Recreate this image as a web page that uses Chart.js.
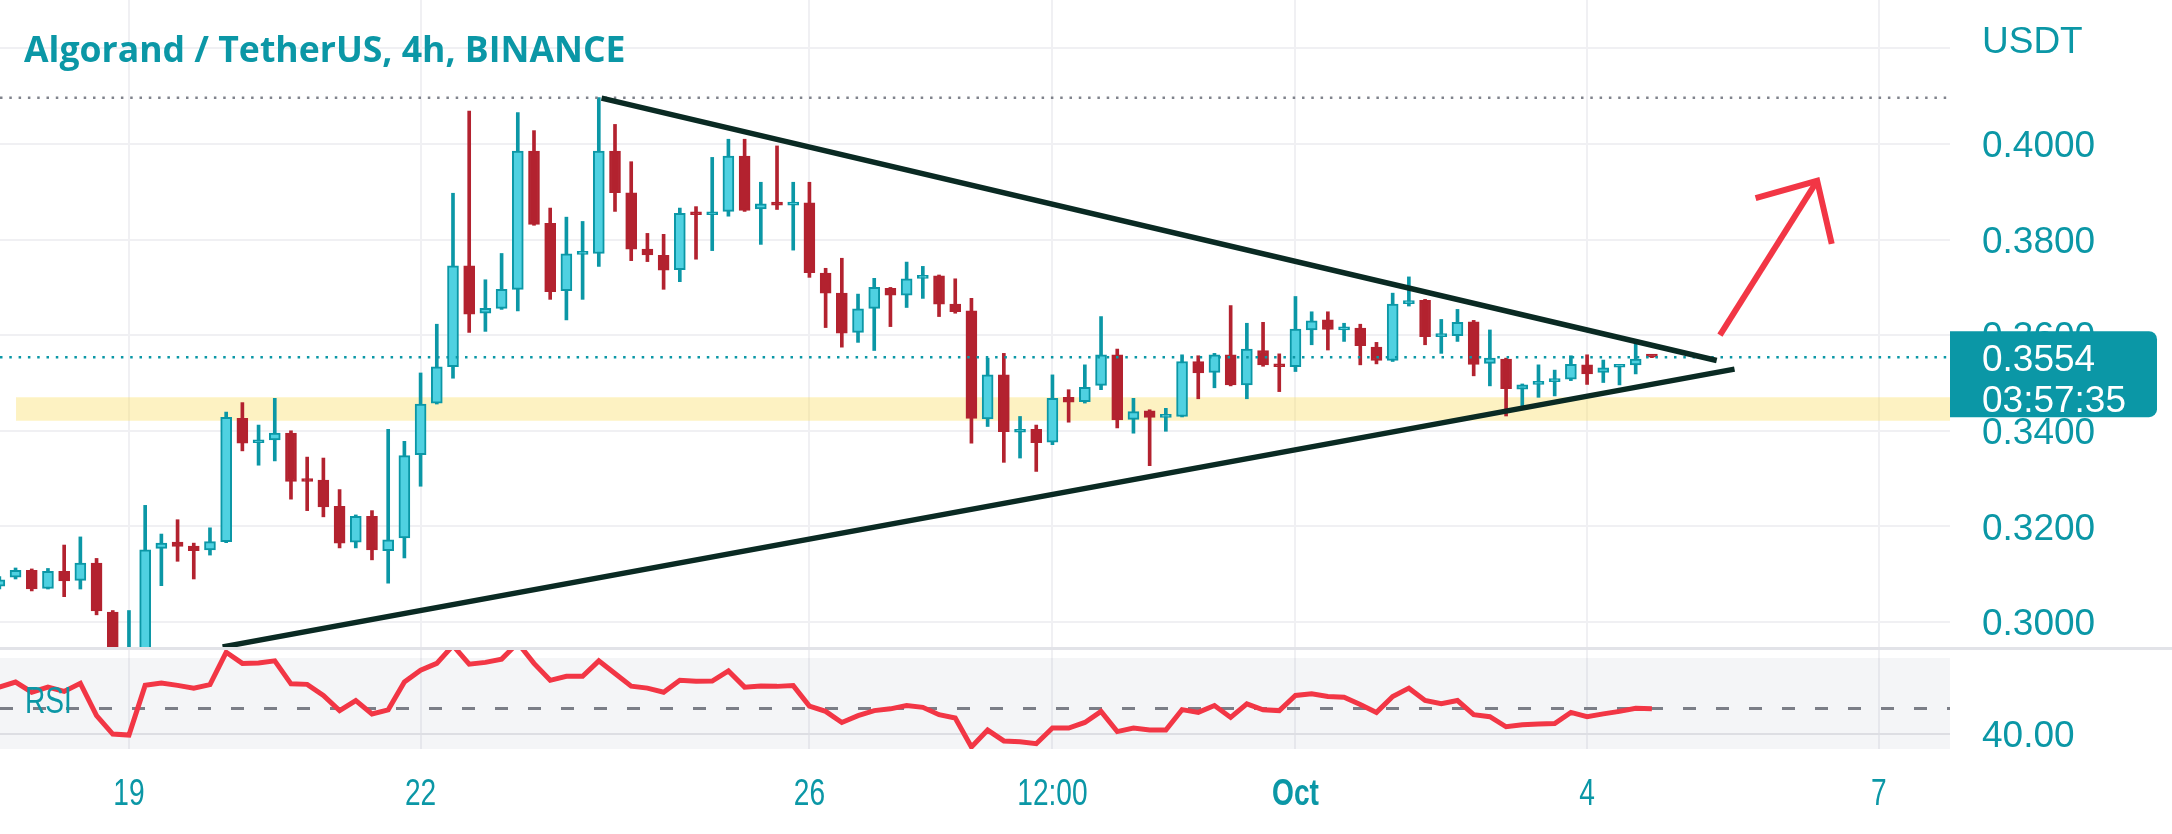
<!DOCTYPE html>
<html>
<head>
<meta charset="utf-8">
<script src="https://cdn.jsdelivr.net/npm/chart.js@4.4.1/dist/chart.umd.min.js"></script>
<style>
  html, body { margin: 0; padding: 0; background: #fff; }
  body { width: 2172px; height: 834px; position: relative; overflow: hidden; }
  #priceChart { position: absolute; left: 0; top: 0; }
  #rsiChart { position: absolute; left: 0; top: 649px; }
  #paneDivider { position: absolute; left: 0; top: 647px; width: 2172px; height: 3px; background: #e2e3e8; }
</style>
</head>
<body>
<canvas id="priceChart" width="2172" height="649"></canvas>
<canvas id="rsiChart" width="2172" height="185"></canvas>
<div id="paneDivider"></div>
<script>
// ALGO/USDT 4h candles. x is counted in 4h candles from Sep 19 00:00,
// first candle shown is Sep 17 16:00
const firstCandle = -8;

const opens = [
  0.3075, 0.3094, 0.3108, 0.3070, 0.3106, 0.3087, 0.3123, 0.3021, 0.2915, 0.2935,
  0.3154, 0.3167, 0.3159, 0.3151, 0.3168, 0.3426, 0.3375, 0.3381, 0.3395, 0.3297,
  0.3297, 0.3242, 0.3167, 0.3221, 0.3149, 0.3176, 0.3350, 0.3458, 0.3534, 0.3745,
  0.3646, 0.3656, 0.3696, 0.3985, 0.3834, 0.3693, 0.3769, 0.3771, 0.3985, 0.3898,
  0.3780, 0.3767, 0.3737, 0.3855, 0.3852, 0.3859, 0.3975, 0.3864, 0.3875, 0.3872,
  0.3877, 0.3730, 0.3688, 0.3606, 0.3656, 0.3698, 0.3684, 0.3719, 0.3724, 0.3665,
  0.3651, 0.3425, 0.3517, 0.3397, 0.3403, 0.3376, 0.3470, 0.3461, 0.3495, 0.3559,
  0.3424, 0.3442, 0.3428, 0.3430, 0.3545, 0.3522, 0.3559, 0.3496, 0.3568, 0.3538,
  0.3534, 0.3611, 0.3632, 0.3611, 0.3615, 0.3575, 0.3547, 0.3666, 0.3673, 0.3597,
  0.3599, 0.3628, 0.3541, 0.3550, 0.3487, 0.3497, 0.3503, 0.3508, 0.3538, 0.3522,
  0.3533, 0.3538, 0.3556
];
const highs = [
  0.3095, 0.3113, 0.3111, 0.3112, 0.3161, 0.3178, 0.3133, 0.3024, 0.3024, 0.3244,
  0.3184, 0.3214, 0.3165, 0.3197, 0.3439, 0.3459, 0.3412, 0.3468, 0.3400, 0.3345,
  0.3343, 0.3277, 0.3224, 0.3233, 0.3403, 0.3378, 0.3521, 0.3623, 0.3897, 0.4069,
  0.3716, 0.3771, 0.4066, 0.4028, 0.3866, 0.3847, 0.3838, 0.4097, 0.4041, 0.3963,
  0.3813, 0.3811, 0.3866, 0.3869, 0.3972, 0.4010, 0.4010, 0.3920, 0.3996, 0.3920,
  0.3920, 0.3740, 0.3761, 0.3686, 0.3719, 0.3700, 0.3753, 0.3744, 0.3726, 0.3718,
  0.3677, 0.3552, 0.3562, 0.3430, 0.3412, 0.3517, 0.3486, 0.3538, 0.3639, 0.3571,
  0.3468, 0.3444, 0.3447, 0.3559, 0.3557, 0.3562, 0.3662, 0.3625, 0.3627, 0.3561,
  0.3681, 0.3649, 0.3649, 0.3625, 0.3623, 0.3585, 0.3688, 0.3722, 0.3675, 0.3633,
  0.3654, 0.3631, 0.3611, 0.3552, 0.3498, 0.3538, 0.3527, 0.3557, 0.3559, 0.3548,
  0.3536, 0.3591, 0.3557
];
const lows = [
  0.3069, 0.3090, 0.3065, 0.3069, 0.3053, 0.3069, 0.3015, 0.2890, 0.2880, 0.2925,
  0.3076, 0.3127, 0.3090, 0.3140, 0.3166, 0.3358, 0.3328, 0.3337, 0.3257, 0.3233,
  0.3220, 0.3155, 0.3155, 0.3130, 0.3081, 0.3134, 0.3284, 0.3456, 0.3510, 0.3606,
  0.3608, 0.3654, 0.3651, 0.3830, 0.3675, 0.3632, 0.3675, 0.3744, 0.3859, 0.3756,
  0.3754, 0.3696, 0.3712, 0.3759, 0.3777, 0.3849, 0.3859, 0.3790, 0.3863, 0.3778,
  0.3721, 0.3616, 0.3575, 0.3585, 0.3568, 0.3618, 0.3658, 0.3677, 0.3639, 0.3646,
  0.3374, 0.3409, 0.3334, 0.3343, 0.3315, 0.3371, 0.3418, 0.3458, 0.3486, 0.3406,
  0.3395, 0.3327, 0.3399, 0.3429, 0.3467, 0.3490, 0.3494, 0.3467, 0.3535, 0.3482,
  0.3524, 0.3580, 0.3569, 0.3587, 0.3538, 0.3540, 0.3545, 0.3661, 0.3580, 0.3562,
  0.3587, 0.3515, 0.3494, 0.3431, 0.3452, 0.3470, 0.3473, 0.3505, 0.3497, 0.3501,
  0.3496, 0.3519, 0.3553
];
const closes = [
  0.3088, 0.3108, 0.3069, 0.3106, 0.3086, 0.3123, 0.3023, 0.2915, 0.2935, 0.3151,
  0.3165, 0.3158, 0.3149, 0.3168, 0.3428, 0.3374, 0.3377, 0.3395, 0.3294, 0.3294,
  0.3241, 0.3165, 0.3221, 0.3151, 0.3172, 0.3348, 0.3456, 0.3534, 0.3745, 0.3644,
  0.3656, 0.3696, 0.3985, 0.3832, 0.3691, 0.3770, 0.3773, 0.3985, 0.3898, 0.3780,
  0.3768, 0.3736, 0.3855, 0.3852, 0.3856, 0.3975, 0.3861, 0.3875, 0.3872, 0.3876,
  0.3731, 0.3688, 0.3604, 0.3655, 0.3700, 0.3684, 0.3718, 0.3723, 0.3665, 0.3649,
  0.3426, 0.3517, 0.3398, 0.3402, 0.3375, 0.3468, 0.3460, 0.3491, 0.3559, 0.3423,
  0.3440, 0.3428, 0.3432, 0.3545, 0.3521, 0.3559, 0.3496, 0.3571, 0.3538, 0.3534,
  0.3613, 0.3630, 0.3612, 0.3615, 0.3578, 0.3547, 0.3665, 0.3670, 0.3597, 0.3600,
  0.3627, 0.3539, 0.3552, 0.3488, 0.3496, 0.3500, 0.3508, 0.3539, 0.3519, 0.3532,
  0.3535, 0.3550, 0.3554
];
const rsiValues = [
  58.5, 60.5, 56.5, 58.5, 56.8, 60.0, 47.2, 39.9, 39.5, 59.2,
  60.1, 59.2, 58.1, 59.5, 72.3, 67.9, 68.1, 68.9, 59.8, 59.6,
  55.2, 49.2, 53.2, 47.9, 49.5, 60.5, 65.2, 67.9, 75.0, 67.6,
  68.3, 69.6, 76.0, 67.9, 61.2, 62.8, 62.8, 68.9, 63.9, 58.9,
  58.1, 56.5, 61.2, 60.8, 60.9, 64.9, 58.5, 58.9, 58.8, 59.1,
  51.0, 48.9, 44.5, 47.2, 49.2, 49.9, 51.2, 50.5, 47.6, 46.3,
  34.8, 41.5, 37.2, 36.9, 36.1, 42.3, 42.3, 44.5, 48.9, 40.9,
  42.3, 41.5, 41.5, 49.6, 48.5, 51.2, 46.5, 51.9, 49.5, 49.2,
  55.2, 55.9, 54.8, 54.5, 51.6, 48.5, 54.8, 58.1, 53.2, 51.9,
  53.2, 47.6, 46.8, 42.8, 43.6, 43.9, 44.1, 48.5, 46.8, 47.9,
  48.9, 50.1, 49.9
];

// time axis (in candles from Sep 19 00:00)
const timeTickPos = [0, 18, 42, 57, 72, 90, 108];
const timeTickLabels = ['19', '22', '26', '12:00', 'Oct', '4', '7'];
const priceTicks = [0.30, 0.32, 0.34, 0.36, 0.38, 0.40, 0.42];
const rsiTicks = [40];
const rsiLevels = [70, 50, 30];

// drawings: [candle, price]
const supportZone = [0.3421, 0.3470];
const supportStart = -6.97;
const upperTrend = [[29.17, 0.4096], [98.0, 0.3547]];
const lowerTrend = [[5.78, 0.2948], [99.1, 0.3529]];
const arrowShaft = [[98.2, 0.3600], [104.2, 0.3923]];
const arrowHead = [[100.4, 0.3887], [104.2, 0.3923], [105.1, 0.3791]];
const countdown = '03:57:35';

const X_MIN = -7.96, X_MAX = 112.4;
const TEAL = '#0b97a6';
const TEAL_FILL = '#4fd1e1';
const RED = '#b3222f';
const GRID = '#f0f0f3';
const AXIS_FONT = { family: "'Liberation Sans', Arial, sans-serif", size: 37 };
const NARROW = "'Liberation Sans', Arial, sans-serif";
const SQUEEZE = 0.76; // time labels are condensed in the original

const xs = closes.map((c, i) => firstCandle + i);
const upColor = closes.map((c, i) => c >= opens[i] ? TEAL : RED);
const bodyFill = closes.map((c, i) => c >= opens[i] ? TEAL_FILL : RED);

function lineSet(points, color, width, extra) {
  return Object.assign({
    type: 'line',
    data: points.map(p => ({ x: p[0], y: p[1] })),
    borderColor: color,
    borderWidth: width,
    pointRadius: 0,
    tension: 0,
    fill: false,
    clip: 0
  }, extra || {});
}

function noPadding(s) {
  s.paddingTop = 0; s.paddingBottom = 0; s.paddingLeft = 0; s.paddingRight = 0;
}

function squeezedText(ctx, text, x, y, align) {
  ctx.save();
  ctx.translate(x, y);
  ctx.scale(SQUEEZE, 1);
  ctx.textAlign = align;
  ctx.fillText(text, 0, 0);
  ctx.restore();
}

const highest = Math.max(...highs);
const lastPrice = closes[closes.length - 1];

const priceOverlay = {
  id: 'priceOverlay',
  afterDraw(chart) {
    const { ctx, chartArea, scales } = chart;
    ctx.save();
    ctx.fillStyle = TEAL;
    ctx.font = "bold 35.6px 'Open Sans', sans-serif";
    ctx.textBaseline = 'alphabetic';
    ctx.fillText('Algorand / TetherUS, 4h, BINANCE', 24, 62);

    ctx.font = AXIS_FONT.size + 'px ' + AXIS_FONT.family;
    ctx.textBaseline = 'middle';
    ctx.fillText('USDT', chartArea.right + 32, 43);

    const y = scales.y.getPixelForValue(lastPrice);
    ctx.fillStyle = TEAL;
    ctx.beginPath();
    ctx.roundRect(chartArea.right, y - 26, 207, 86, [0, 8, 8, 0]);
    ctx.fill();
    ctx.fillStyle = '#ffffff';
    ctx.fillText(lastPrice.toFixed(4), chartArea.right + 32, y + 4);
    ctx.fillText(countdown, chartArea.right + 32, y + 45);
    ctx.restore();
  }
};

new Chart(document.getElementById('priceChart'), {
  type: 'bar',
  data: {
    datasets: [
      // yellow zone
      lineSet([[supportStart, supportZone[1]], [X_MAX, supportZone[1]]], 'rgba(0,0,0,0)', 0,
        { fill: '+1', backgroundColor: 'rgba(250,222,95,0.38)', order: 10 }),
      lineSet([[supportStart, supportZone[0]], [X_MAX, supportZone[0]]], 'rgba(0,0,0,0)', 0, { order: 10 }),
      {
        label: 'wicks',
        data: xs.map((x, i) => ({ x: x, y: [lows[i], highs[i]] })),
        backgroundColor: upColor,
        borderWidth: 0,
        barThickness: 3,
        grouped: false,
        clip: 0,
        order: 8
      },
      {
        label: 'bodies',
        data: xs.map((x, i) => ({ x: x, y: [opens[i], closes[i]] })),
        backgroundColor: bodyFill,
        borderColor: upColor,
        borderWidth: 2,
        borderSkipped: false,
        barThickness: 11,
        minBarLength: 3,
        grouped: false,
        clip: 0,
        order: 7
      },
      lineSet([[X_MIN, highest], [X_MAX, highest]], '#80838c', 2.5, { borderDash: [2.5, 6.8], order: 6 }),
      lineSet([[X_MIN, lastPrice], [X_MAX, lastPrice]], TEAL, 2.5, { borderDash: [2.5, 6.8], order: 6 }),
      lineSet(upperTrend, '#0a2a23', 5.5, { order: 5 }),
      lineSet(lowerTrend, '#0a2a23', 5.5, { order: 5 }),
      lineSet(arrowShaft, '#f23645', 6, { order: 4 }),
      lineSet(arrowHead, '#f23645', 6, { order: 4 })
    ]
  },
  options: {
    responsive: false,
    animation: false,
    devicePixelRatio: 1,
    layout: { padding: 0 },
    plugins: { legend: { display: false }, tooltip: { enabled: false } },
    scales: {
      x: {
        type: 'linear', min: X_MIN, max: X_MAX, offset: false,
        ticks: { display: false },
        grid: { color: GRID, lineWidth: 2, drawTicks: false, offset: false },
        border: { display: false },
        afterBuildTicks: s => { s.ticks = timeTickPos.map(v => ({ value: v })); },
        afterFit: s => { s.height = 0; noPadding(s); }
      },
      y: {
        position: 'right', min: 0.29435, max: 0.43013,
        ticks: {
          color: TEAL, font: AXIS_FONT, padding: 32, labelOffset: 3,
          callback: v => v > 0.41 ? '' : v.toFixed(4)
        },
        grid: { color: GRID, lineWidth: 2, drawTicks: false },
        border: { display: false },
        afterBuildTicks: s => { s.ticks = priceTicks.map(v => ({ value: v })); },
        afterFit: s => { s.width = 222; noPadding(s); }
      }
    }
  },
  plugins: [priceOverlay]
});

const rsiOverlay = {
  id: 'rsiOverlay',
  afterDraw(chart) {
    const { ctx, scales } = chart;
    ctx.save();
    ctx.fillStyle = TEAL;
    ctx.textBaseline = 'middle';
    ctx.font = '37px ' + NARROW;
    squeezedText(ctx, 'RSI', 25, 54, 'left');
    // time axis labels
    timeTickPos.forEach((v, i) => {
      ctx.font = (v === 72 ? 'bold ' : '') + '37px ' + NARROW;
      squeezedText(ctx, timeTickLabels[i], scales.x.getPixelForValue(v), 146, 'center');
    });
    ctx.restore();
  }
};

new Chart(document.getElementById('rsiChart'), {
  type: 'line',
  data: {
    datasets: [
      {
        data: xs.map((x, i) => ({ x: x, y: rsiValues[i] })),
        borderColor: '#f23645', borderWidth: 5, pointRadius: 0, tension: 0,
        fill: false, clip: 0, order: 1
      },
      lineSet([[X_MIN, rsiLevels[1]], [X_MAX, rsiLevels[1]]], '#7b7e87', 3, { borderDash: [13, 20], order: 2 }),
      lineSet([[X_MIN, rsiLevels[0]], [X_MAX, rsiLevels[0]]], 'rgba(0,0,0,0)', 0,
        { fill: '+1', backgroundColor: 'rgba(120,123,150,0.08)', order: 3 }),
      lineSet([[X_MIN, rsiLevels[2]], [X_MAX, rsiLevels[2]]], 'rgba(0,0,0,0)', 0, { order: 3 })
    ]
  },
  options: {
    responsive: false,
    animation: false,
    devicePixelRatio: 1,
    layout: { padding: 0 },
    plugins: { legend: { display: false }, tooltip: { enabled: false } },
    scales: {
      x: {
        type: 'linear', min: X_MIN, max: X_MAX, offset: false,
        grid: { color: GRID, lineWidth: 2, drawTicks: false },
        border: { display: false },
        afterBuildTicks: s => { s.ticks = timeTickPos.map(v => ({ value: v })); },
        ticks: { display: false },
        afterFit: s => { s.height = 85; noPadding(s); }
      },
      y: {
        position: 'right', min: 34, max: 73.6,
        ticks: { color: TEAL, font: AXIS_FONT, padding: 32, labelOffset: 3, callback: v => v.toFixed(2) },
        grid: { color: '#e6e6ea', lineWidth: 2, drawTicks: false },
        border: { display: false },
        afterBuildTicks: s => { s.ticks = rsiTicks.map(v => ({ value: v })); },
        afterFit: s => { s.width = 222; noPadding(s); }
      }
    }
  },
  plugins: [rsiOverlay]
});
</script>
</body>
</html>
